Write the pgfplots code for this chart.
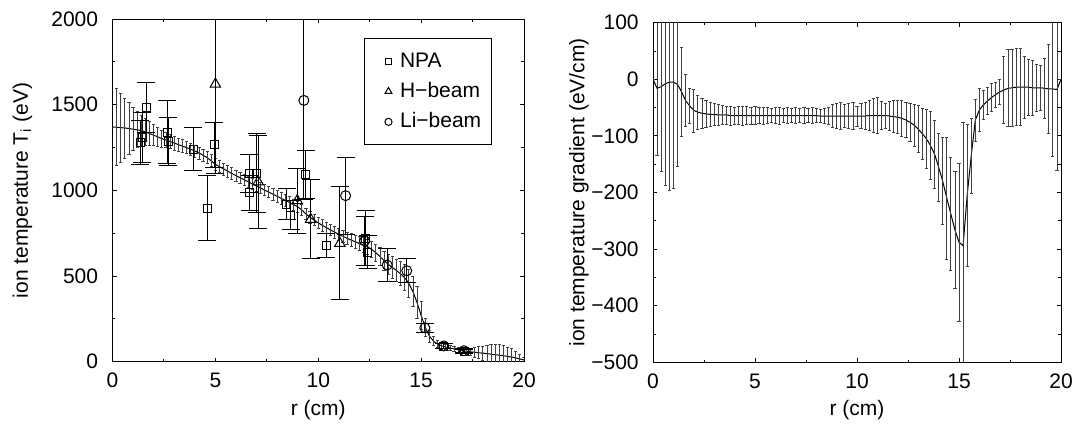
\documentclass[border=0pt]{standalone}
\usepackage{fontspec}
\setmainfont{Liberation Sans}
\usepackage{pgfplots}
\usepackage{pgfplotstable}
\pgfplotsset{compat=1.18}

% fitted profile T_i(r) with its uncertainty
\pgfplotstableread{
x y e
0.0 1370 0
0.2 1368 225
0.4 1366 200
0.6 1364 175
0.8 1361 150
1.0 1357 125
1.2 1353 105
1.4 1348 90
1.6 1342 78
1.8 1332 68
2.0 1322 60
2.2 1312 54
2.4 1302 50
2.6 1294 46
2.8 1285 43
3.0 1276 40
3.2 1267 38
3.4 1258 37
3.6 1249 36
3.8 1240 35
4.0 1230 35
4.2 1218 35
4.4 1205 35
4.6 1191 35
4.8 1172 35
5.0 1152 35
5.2 1138 35
5.4 1125 35
5.6 1112 34
5.8 1098 34
6.0 1086 33
6.2 1074 33
6.4 1062 33
6.6 1050 33
6.8 1037 33
7.0 1025 33
7.2 1013 33
7.4 1001 33
7.6 989 33
7.8 977 33
8.0 965 33
8.2 953 33
8.4 941 33
8.6 929 33
8.8 917 33
9.0 904 33
9.2 885 33
9.4 863 33
9.6 843 33
9.8 826 33
10.0 810 33
10.2 796 33
10.4 782 33
10.6 769 33
10.8 756 34
11.0 743 34
11.2 732 35
11.4 720 36
11.6 710 37
11.8 700 38
12.0 690 40
12.2 682 42
12.4 671 44
12.6 655 46
12.8 636 48
13.0 614 52
13.2 590 56
13.4 569 60
13.6 550 63
13.8 532 66
14.0 513 70
14.2 490 75
14.4 458 80
14.6 410 88
14.8 345 95
15.0 270 80
15.2 200 55
15.4 150 35
15.6 120 25
15.8 103 20
16.0 92 18
16.2 85 16
16.4 80 15
16.6 75 15
16.8 70 15
17.0 65 16
17.2 61 18
17.4 58 22
17.6 55 28
17.8 52 35
18.0 50 42
18.2 47 50
18.4 44 56
18.6 41 60
18.8 38 62
19.0 35 60
19.2 31 55
19.4 27 48
19.6 22 38
19.8 16 26
20.0 10 14
}\fitL

\pgfplotstableread{
x y e
1.35 1280 130
1.45 1310 145
1.63 1485 145
2.65 1340 185
2.70 1285 140
3.93 1240 125
4.61 895 190
4.95 1265 130
6.65 1100 110
6.68 985 100
7.00 1100 230
8.46 920 90
8.66 856 85
9.40 1090 140
10.40 681 70
12.30 720 160
12.40 640 95
16.10 90 15
17.10 60 12
}\npa

\pgfplotstableread{
x y e
5.00 1620 520
7.08 1050 270
8.98 940 190
9.63 831 230
11.05 691 330
}\hbeam

\pgfplotstableread{
x y e
9.30 1525 580
11.33 969 225
12.25 705 145
13.35 564 95
14.30 531 70
15.18 198 25
16.10 92 15
17.08 64 12
}\libeam

% gradient dT_i/dr with its uncertainty
\pgfplotstableread{
x y e
0.0 0 0
0.2 -16 118
0.4 -13 150
0.6 -8 180
0.8 -5 191
1.0 -5 188
1.2 -9 145
1.4 -22 78
1.6 -38 46
1.8 -47 31
2.0 -55 38
2.2 -58 30
2.4 -60 26
2.6 -61 24
2.8 -62 21
3.0 -62 19
3.2 -63 18
3.4 -63 17
3.6 -63 16
3.8 -64 17
4.0 -64 15
4.2 -64 16
4.4 -64 17
4.6 -64 16
4.8 -64 15
5.0 -64 16
5.2 -64 14
5.4 -64 15
5.6 -64 14
5.8 -64 13
6.0 -64 14
6.2 -64 15
6.4 -64 13
6.6 -64 14
6.8 -64 13
7.0 -64 14
7.2 -64 13
7.4 -64 14
7.6 -64 13
7.8 -64 14
8.0 -64 13
8.2 -65 12
8.4 -65 13
8.6 -65 15
8.8 -65 20
9.0 -65 22
9.2 -65 24
9.4 -65 20
9.6 -65 22
9.8 -65 24
10.0 -65 18
10.2 -65 22
10.4 -65 24
10.6 -64 26
10.8 -64 30
11.0 -64 32
11.2 -64 25
11.4 -64 22
11.6 -65 26
11.8 -66 28
12.0 -67 29
12.2 -69 31
12.4 -72 31
12.6 -76 33
12.8 -81 37
13.0 -88 42
13.2 -96 45
13.4 -105 52
13.6 -117 60
13.8 -132 60
14.0 -155 60
14.2 -180 77
14.4 -210 108
14.6 -238 100
14.8 -266 103
15.0 -288 140
15.2 -294 218
15.4 -205 125
15.6 -135 66
15.8 -72 37
16.0 -54 38
16.2 -45 25
16.4 -38 24
16.6 -32 24
16.8 -27 22
17.0 -22 22
17.2 -19 59
17.4 -16 68
17.6 -15 68
17.8 -14 68
18.0 -14 68
18.2 -14 55
18.4 -14 50
18.6 -15 48
18.8 -15 42
19.0 -15 40
19.2 -16 53
19.4 -17 78
19.6 -17 120
19.8 -18 143
20.0 0 0
}\gradR

\pgfplotsset{
  panel/.style={
    scale only axis,
    anchor=south west,
    xmin=0, xmax=20,
    xtick={0,5,10,15,20},
    minor x tick num=1,
    minor y tick num=1,
    tick align=inside,
    major tick length=2pt,
    minor tick length=1.3pt,
    axis line style={line width=0.5pt},
    every tick/.style={black, line width=0.5pt},
    tick label style={font=\fontsize{10.5}{12}\selectfont},
    label style={font=\fontsize{10.5}{12}\selectfont},
    /pgf/number format/assume math mode=true,
    /pgf/number format/1000 sep={},
    yticklabel style={inner sep=0pt, anchor=east, xshift=-7pt},
    xticklabel style={inner sep=0pt, anchor=north, yshift=-5.5pt},
    xlabel={r (cm)},
    xlabel style={at={(axis description cs:0.5,0)}, anchor=center, yshift=-24pt},
  },
  fitbars/.style={
    black, line width=0.5pt, no marks,
    error bars/.cd, y dir=both, y explicit,
    error bar style={line width=0.4pt, black!75},
    error mark options={rotate=90, mark size=0.8pt, line width=0.4pt, black!75},
    /pgfplots/.cd,
  },
  databars/.style={
    error bars/.cd, y dir=both, y explicit,
    error bar style={line width=0.5pt, black},
    error mark options={rotate=90, mark size=4.5pt, line width=0.5pt, black},
    /pgfplots/.cd,
  },
}

\begin{document}
\begin{tikzpicture}
\path[use as bounding box] (-56.25pt,-30.65pt) rectangle (483.25pt,180.85pt);

\begin{axis}[panel,
  at={(0pt,0pt)},
  width=205.75pt, height=171.35pt,
  ymin=0, ymax=2000,
  ytick={0,500,1000,1500,2000},
  ylabel={ion temperature T\textsubscript{i} (eV)},
  ylabel style={at={([xshift=-45pt]axis description cs:0,0.5)}, anchor=center, rotate=0},
  legend style={at={(axis description cs:0.923,0.944)}, anchor=north east,
    draw=black, line width=0.5pt, fill=white,
    font=\fontsize{10.5}{12}\selectfont,
    inner xsep=4.3pt, inner ysep=6pt, row sep=4.1pt,
    nodes={inner xsep=1pt, inner ysep=1pt},
    /tikz/every odd column/.append style={column sep=3pt}},
  legend cell align=left,
  legend image code/.code={\path (0pt,0pt); \draw[#1] plot coordinates {(7.5pt,0pt)};},
]
\addplot[forget plot, fitbars] table[x=x, y=y, y error=e] {\fitL};
\addplot[only marks, mark=square, mark size=2pt, black, line width=0.5pt,
  legend image post style={mark size=1.6pt}, databars] table[x=x, y=y, y error=e] {\npa};
\addlegendentry{NPA}
\addplot[only marks, mark=triangle, mark size=3pt, black, line width=0.5pt,
  legend image post style={mark size=2pt}, databars] table[x=x, y=y, y error=e] {\hbeam};
\addlegendentry{H−beam}
\addplot[only marks, mark=o, mark size=2.5pt, black, line width=0.5pt,
  legend image post style={mark size=1.8pt}, databars] table[x=x, y=y, y error=e] {\libeam};
\addlegendentry{Li−beam}
\end{axis}

\begin{axis}[panel,
  at={(270.25pt,-0.3pt)},
  width=204pt, height=169.8pt,
  ymin=-500, ymax=100,
  ytick={-500,-400,-300,-200,-100,0,100},
  yticklabels={−500,−400,−300,−200,−100,0,100},
  ylabel={ion temperature gradient (eV/cm)},
  ylabel style={at={([xshift=-37pt]axis description cs:0,0.5)}, anchor=center, rotate=0},
]
\addplot[fitbars] table[x=x, y=y, y error=e] {\gradR};
\end{axis}
\end{tikzpicture}
\end{document}
